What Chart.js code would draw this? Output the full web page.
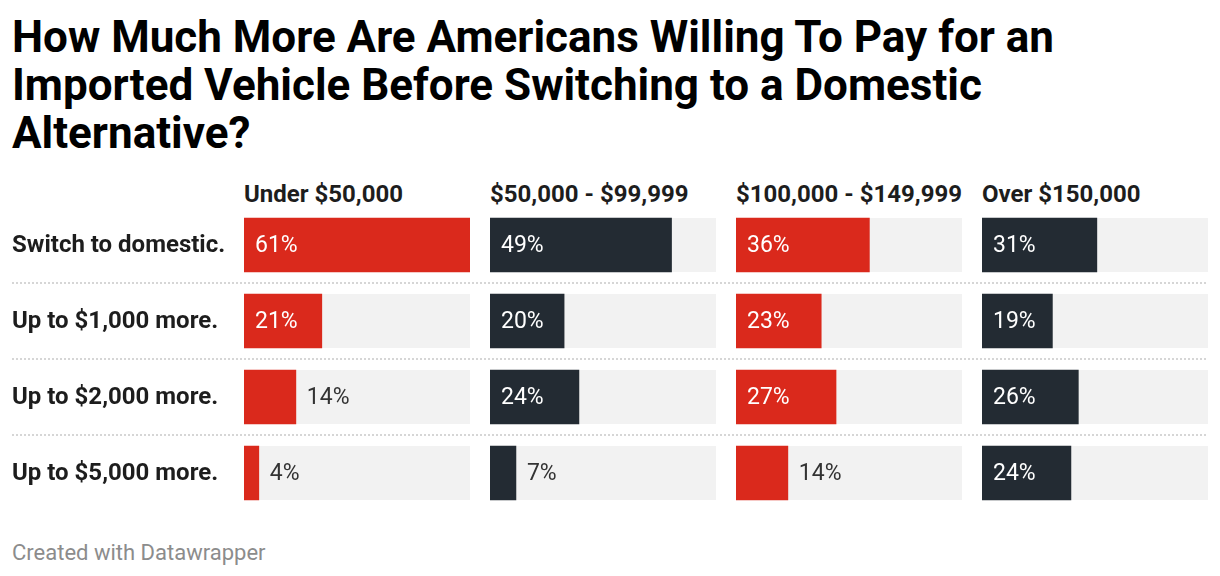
<!DOCTYPE html>
<html>
<head>
<meta charset="utf-8">
<script src="https://cdn.jsdelivr.net/npm/chart.js@4/dist/chart.umd.min.js"></script>
<style>
  html, body { margin: 0; padding: 0; background: #fff; }
  body { width: 1220px; height: 576px; position: relative; overflow: hidden; font-family: Roboto, sans-serif; }
  h1 { position: absolute; left: 12px; top: 13px; margin: 0; width: 1100px;
       font-size: 44px; line-height: 48px; font-weight: 700; color: #000; }
  .head { position: absolute; top: 180px; font-size: 24px; line-height: normal; font-weight: 700; color: #1d1d1d; white-space: nowrap; }
  .sep { position: absolute; left: 12px; width: 1196px; height: 2px;
         background: repeating-linear-gradient(to right, #d6d6d6 0 2px, transparent 2px 4px); }
  .box { position: absolute; top: 207px; height: 304px; }
  .foot { position: absolute; left: 12px; top: 540px; font-size: 22px; line-height: normal; color: #8c8c8c; }
</style>
</head>
<body>
<h1>How Much More Are Americans Willing To Pay for an Imported Vehicle Before Switching to a Domestic Alternative?</h1>
<div id="heads"></div>
<div class="sep" style="top:282px"></div>
<div class="sep" style="top:358px"></div>
<div class="sep" style="top:434px"></div>
<div class="box" style="left:0;width:470px"><canvas id="c0"></canvas></div>
<div class="box" style="left:490px;width:226px"><canvas id="c1"></canvas></div>
<div class="box" style="left:736px;width:226px"><canvas id="c2"></canvas></div>
<div class="box" style="left:982px;width:226px"><canvas id="c3"></canvas></div>
<div class="foot">Created with Datawrapper</div>
<script>
Chart.defaults.font.family = "Roboto, sans-serif";

// answers (rows)
const answers = ["Switch to domestic.", "Up to $1,000 more.", "Up to $2,000 more.", "Up to $5,000 more."];
// income groups (columns)
const incomeGroups = ["Under $50,000", "$50,000 - $99,999", "$100,000 - $149,999", "Over $150,000"];

const under50k = [61, 21, 14, 4];
const from50kTo100k = [49, 20, 24, 7];
const from100kTo150k = [36, 23, 27, 14];
const over150k = [31, 19, 26, 24];

const groupValues = [under50k, from50kTo100k, from100kTo150k, over150k];
const groupColors = ["#da291c", "#232b33", "#da291c", "#232b33"];
const colLefts = [244, 490, 736, 982];

const scaleMax = Math.max(...groupValues.flat());

// column headers
const headWrap = document.getElementById("heads");
incomeGroups.forEach((g, i) => {
    const d = document.createElement("div");
    d.className = "head";
    d.style.left = colLefts[i] + "px";
    d.textContent = g;
    headWrap.appendChild(d);
});

// grey track behind each bar, percentage labels, and row labels on the first chart
const barExtras = {
    id: "barExtras",
    beforeDatasetsDraw(chart) {
        const { ctx, chartArea } = chart;
        const meta = chart.getDatasetMeta(0);
        ctx.save();
        ctx.fillStyle = "#f2f2f2";
        meta.data.forEach(bar => {
            ctx.fillRect(chartArea.left, bar.y - bar.height / 2, chartArea.right - chartArea.left, bar.height);
        });
        ctx.restore();
    },
    afterDatasetsDraw(chart, args, opts) {
        const { ctx } = chart;
        const meta = chart.getDatasetMeta(0);
        const values = chart.data.datasets[0].data;
        ctx.save();
        ctx.textBaseline = "alphabetic";
        ctx.textAlign = "left";
        meta.data.forEach((bar, i) => {
            ctx.font = "400 23px Roboto, sans-serif";
            const label = values[i] + "%";
            const w = bar.x - bar.base;
            const tw = ctx.measureText(label).width;
            if (w > tw + 20) {
                ctx.fillStyle = "#ffffff";
                ctx.fillText(label, bar.base + 11, bar.y + 7);
            } else {
                ctx.fillStyle = "#333333";
                ctx.fillText(label, bar.x + 11, bar.y + 7);
            }
            if (opts.rowLabels) {
                ctx.font = "700 24px Roboto, sans-serif";
                ctx.fillStyle = "#1d1d1d";
                ctx.fillText(chart.data.labels[i], 12, bar.y + 7);
            }
        });
        ctx.restore();
    }
};

groupValues.forEach((values, i) => {
    const withLabels = i === 0;
    new Chart(document.getElementById("c" + i), {
        type: "bar",
        data: {
            labels: answers,
            datasets: [{
                label: incomeGroups[i],
                data: values,
                backgroundColor: groupColors[i],
                borderWidth: 0,
                barThickness: 54
            }]
        },
        options: {
            indexAxis: "y",
            responsive: true,
            maintainAspectRatio: false,
            animation: false,
            layout: { padding: { left: withLabels ? 244 : 0, right: 0, top: 0, bottom: 0 } },
            plugins: {
                legend: { display: false },
                tooltip: { enabled: false },
                barExtras: { rowLabels: withLabels }
            },
            scales: {
                x: { display: false, min: 0, max: scaleMax },
                y: { display: false }
            }
        },
        plugins: [barExtras]
    });
});
</script>
</body>
</html>
